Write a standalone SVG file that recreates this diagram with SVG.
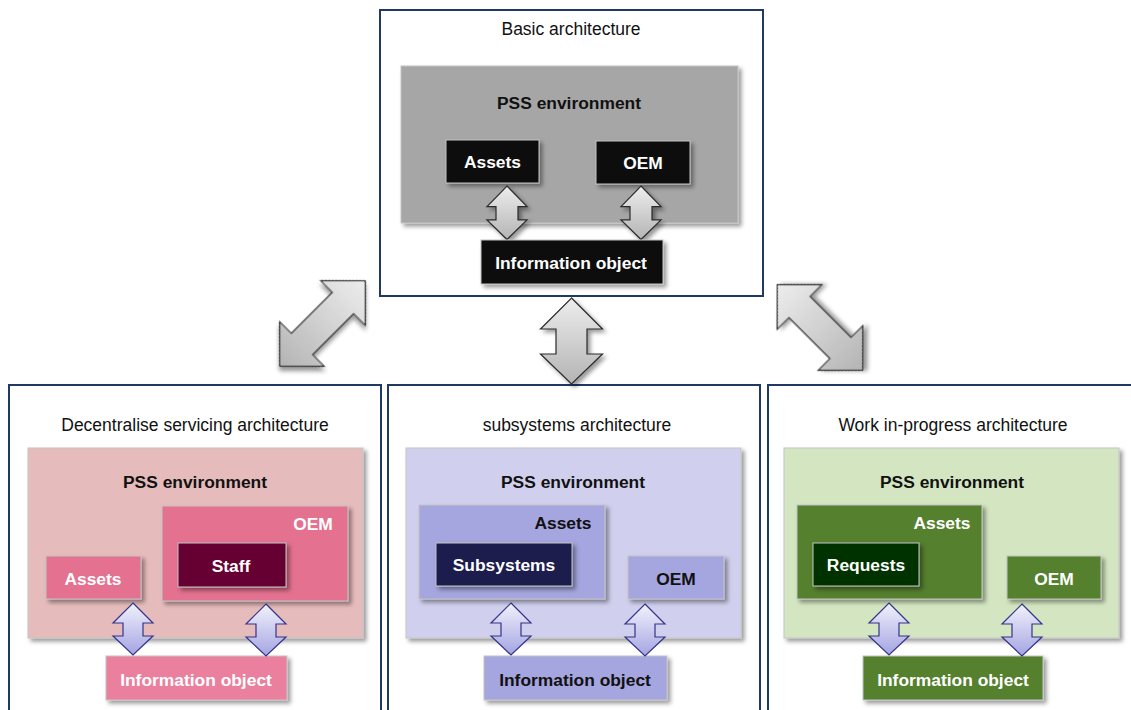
<svg xmlns="http://www.w3.org/2000/svg" width="1131" height="710" viewBox="0 0 1131 710">
  <style>
    .frame { fill: #ffffff; stroke: #1F3864; stroke-width: 2; }
    .title { font-family: "Liberation Sans", Arial, sans-serif; font-size: 17.5px; fill: #111111; text-anchor: middle; }
    .lbl { font-family: "Liberation Sans", Arial, sans-serif; font-size: 17.4px; font-weight: bold; text-anchor: middle; }
    .dark { fill: #111111; }
    .light { fill: #ffffff; }
    .box { stroke: #C4C4C4; stroke-width: 1; filter: url(#shadow); }
    .big { fill: url(#grayGrad); stroke: #2B2B2B; stroke-width: 1.2; filter: url(#shadow); }
    .small { fill: url(#blueGrad); stroke: #33338A; stroke-width: 1.2; }
  </style>
  <defs>
    <filter id="shadow" x="-10%" y="-10%" width="130%" height="130%">
      <feDropShadow dx="3" dy="3" stdDeviation="2.2" flood-color="#000000" flood-opacity="0.4"/>
    </filter>
    <linearGradient id="grayGrad" x1="0" y1="0" x2="0" y2="1">
      <stop offset="0" stop-color="#EDEDED"/>
      <stop offset="1" stop-color="#B4B4B4"/>
    </linearGradient>
    <linearGradient id="blueGrad" x1="0" y1="0" x2="0" y2="1">
      <stop offset="0" stop-color="#F2F2FC"/>
      <stop offset="1" stop-color="#A4A4E2"/>
    </linearGradient>
    <!-- large double arrow, length 86, centred on origin -->
    <path id="bigArrow" d="M0,-43 L31,-12 L15.5,-12 L15.5,13 L31,13 L0,43 L-31,13 L-15.5,13 L-15.5,-12 L-31,-12 Z"/>
    <!-- longer double arrow for the diagonal links, length 121, centred on origin -->
    <path id="longArrow" d="M0,-60.5 L31.5,-29 L15,-29 L15,29 L31.5,29 L0,60.5 L-31.5,29 L-15,29 L-15,-29 L-31.5,-29 Z"/>
    <!-- small double arrow, top at origin -->
    <path id="smallArrow" d="M0,0 L20,20 L10,20 L10,33 L20,33 L0,52 L-20,33 L-10,33 L-10,20 L-20,20 Z"/>
  </defs>

  <rect width="1131" height="710" fill="#ffffff"/>

  <!-- Basic architecture -->
  <g id="basic">
    <rect class="frame" x="380" y="10" width="383" height="286"/>
    <text class="title" x="571" y="35">Basic architecture</text>
    <rect class="box" x="401" y="66" width="337" height="157" fill="#A6A6A6"/>
    <text class="lbl dark" x="569" y="108.5">PSS environment</text>
    <g id="basic-assets">
      <rect class="box" x="446" y="140" width="93" height="43" fill="#0D0D0D"/>
      <text class="lbl light" x="492.5" y="168">Assets</text>
    </g>
    <g id="basic-oem">
      <rect class="box" x="596" y="141" width="94" height="43" fill="#0D0D0D"/>
      <text class="lbl light" x="643" y="169">OEM</text>
    </g>
    <g id="basic-arrows">
      <path class="big" transform="translate(507,186) scale(1,1.03)" d="M0,0 L20,20 L11,20 L11,33 L20,33 L0,52 L-20,33 L-11,33 L-11,20 L-20,20 Z"/>
      <path class="big" transform="translate(641,186) scale(1,1.03)" d="M0,0 L20,20 L11,20 L11,33 L20,33 L0,52 L-20,33 L-11,33 L-11,20 L-20,20 Z"/>
    </g>
    <g id="basic-info">
      <rect class="box" x="481" y="240" width="182" height="44" fill="#0D0D0D"/>
      <text class="lbl light" x="571" y="268.5">Information object</text>
    </g>
  </g>

  <!-- Decentralise servicing architecture -->
  <g id="decentralise">
    <rect class="frame" x="9" y="385" width="372" height="340"/>
    <text class="title" x="195" y="431">Decentralise servicing architecture</text>
    <rect class="box" x="28" y="448" width="335" height="190" fill="#E6BBBB"/>
    <text class="lbl dark" x="195" y="487.5">PSS environment</text>
    <g id="dec-oem">
      <rect class="box" x="162" y="506" width="186" height="95" fill="#E3718F"/>
      <text class="lbl light" x="313" y="529.5">OEM</text>
    </g>
    <g id="dec-staff">
      <rect class="box" x="178" y="543" width="108" height="44" fill="#660033"/>
      <text class="lbl light" x="231" y="571.5">Staff</text>
    </g>
    <g id="dec-assets">
      <rect class="box" x="46" y="556" width="95" height="43" fill="#E3718F"/>
      <text class="lbl light" x="93" y="584.5">Assets</text>
    </g>
    <g id="dec-info">
      <rect class="box" x="106" y="656" width="181" height="44" fill="#EA809E"/>
      <text class="lbl light" x="196" y="686">Information object</text>
    </g>
  </g>

  <!-- subsystems architecture -->
  <g id="subsystems">
    <rect class="frame" x="388" y="385" width="372" height="340"/>
    <text class="title" x="577" y="431">subsystems architecture</text>
    <rect class="box" x="406" y="448" width="335" height="190" fill="#D0D0EE"/>
    <text class="lbl dark" x="573" y="487.5">PSS environment</text>
    <g id="sub-assets">
      <rect class="box" x="419" y="505" width="186" height="94" fill="#A5A5DF"/>
      <text class="lbl dark" x="563" y="528.5">Assets</text>
    </g>
    <g id="sub-subsystems">
      <rect class="box" x="436" y="543" width="136" height="43" fill="#1B1B4D"/>
      <text class="lbl light" x="504" y="571">Subsystems</text>
    </g>
    <g id="sub-oem">
      <rect class="box" x="628" y="556" width="96" height="43" fill="#A5A5DF"/>
      <text class="lbl dark" x="676" y="584.5">OEM</text>
    </g>
    <g id="sub-info">
      <rect class="box" x="484" y="656" width="183" height="44" fill="#A5A5DF"/>
      <text class="lbl dark" x="575" y="686">Information object</text>
    </g>
  </g>

  <!-- Work in-progress architecture -->
  <g id="wip">
    <rect class="frame" x="768" y="385" width="380" height="340"/>
    <text class="title" x="953" y="431">Work in-progress architecture</text>
    <rect class="box" x="784" y="448" width="335" height="190" fill="#D4E6C1"/>
    <text class="lbl dark" x="952" y="487.5">PSS environment</text>
    <g id="wip-assets">
      <rect class="box" x="797" y="505" width="185" height="94" fill="#55802F"/>
      <text class="lbl light" x="942" y="528.5">Assets</text>
    </g>
    <g id="wip-requests">
      <rect class="box" x="813" y="543" width="106" height="43" fill="#033303"/>
      <text class="lbl light" x="866" y="571">Requests</text>
    </g>
    <g id="wip-oem">
      <rect class="box" x="1007" y="556" width="94" height="43" fill="#55802F"/>
      <text class="lbl light" x="1054" y="584.5">OEM</text>
    </g>
    <g id="wip-info">
      <rect class="box" x="863" y="656" width="180" height="44" fill="#55802F"/>
      <text class="lbl light" x="953" y="686">Information object</text>
    </g>
  </g>

  <!-- connectors -->
  <g id="connectors">
    <use href="#bigArrow" class="big" transform="translate(571.5,341)"/>
    <use href="#longArrow" class="big" transform="translate(322.5,323.5) rotate(45)"/>
    <use href="#longArrow" class="big" transform="translate(820,327.5) rotate(-45)"/>

    <use href="#smallArrow" class="small" transform="translate(133,603)"/>
    <use href="#smallArrow" class="small" transform="translate(266,604)"/>
    <use href="#smallArrow" class="small" transform="translate(511,603)"/>
    <use href="#smallArrow" class="small" transform="translate(645,604)"/>
    <use href="#smallArrow" class="small" transform="translate(889,603)"/>
    <use href="#smallArrow" class="small" transform="translate(1022,604)"/>
  </g>
</svg>
